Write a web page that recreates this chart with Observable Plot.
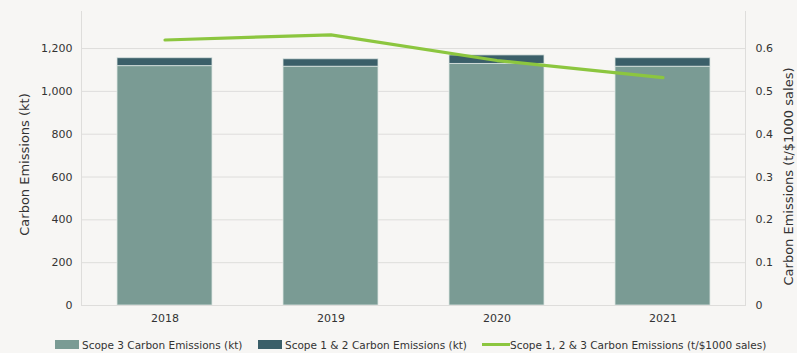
<!DOCTYPE html>
<html><head><meta charset="utf-8">
<script src="https://cdn.jsdelivr.net/npm/d3@7"></script>
<script src="https://cdn.jsdelivr.net/npm/@observablehq/plot@0.6"></script>
<style>
html,body{margin:0;padding:0;background:#f7f6f4;font-family:"DejaVu Sans",sans-serif;}
#chart{width:797px;height:353px;position:relative;overflow:hidden;}
.legend{position:absolute;top:336px;left:0;width:797px;height:17px;font-size:10.5px;color:#333;}
.legend .item{position:absolute;top:0;display:flex;align-items:center;height:17px;white-space:nowrap;}
.legend .sw{display:inline-block;width:24px;height:9px;margin-right:3px;}
.legend .ln{display:inline-block;width:28px;height:3px;margin-right:0px;}
</style></head>
<body><div id="chart"></div>
<script>
const years = ["2018","2019","2020","2021"];
const scope3 = [1118, 1115, 1128, 1115];
const scope12 = [37, 35, 40, 40];
const intensity = [0.620, 0.632, 0.572, 0.532];
const leftTicks = [0,200,400,600,800,1000,1200];
const rightTicks = [0,0.1,0.2,0.3,0.4,0.5,0.6];
const seriesNames = ["Scope 3 Carbon Emissions (kt)","Scope 1 & 2 Carbon Emissions (kt)","Scope 1, 2 & 3 Carbon Emissions (t/$1000 sales)"];
const leftTitle = "Carbon Emissions (kt)";
const rightTitle = "Carbon Emissions (t/$1000 sales)";
const colors = ["#7a9b94","#3b5f69","#8cc63f"];

const ratio = 1200/0.6;
const bars = [];
years.forEach((y,i)=>{
  bars.push({year:y, series:seriesNames[0], value:scope3[i], order:0});
  bars.push({year:y, series:seriesNames[1], value:scope12[i], order:1});
});
const line = years.map((y,i)=>({year:y, v:intensity[i]*ratio}));

const plot = Plot.plot({
  width:797, height:336,
  marginLeft:81, marginRight:52, marginTop:11, marginBottom:31,
  style:{background:"transparent", fontFamily:"DejaVu Sans, sans-serif", fontSize:"11px", color:"#333"},
  x:{domain:years, paddingInner:0.43, paddingOuter:0.215, label:null},
  y:{domain:[0,1373], label:null},
  color:{domain:seriesNames.slice(0,2), range:colors.slice(0,2)},
  marks:[
    Plot.gridY(leftTicks,{stroke:"#dedddb", strokeOpacity:1}),
    Plot.frame({anchor:"left", stroke:"#dedddb"}),
    Plot.frame({anchor:"right", stroke:"#dedddb"}),
    Plot.barY(bars, Plot.stackY({x:"year", y:"value", fill:"series", order:"order", stroke:"#dfe7e4", strokeWidth:1, strokeOpacity:0.8})),
    Plot.ruleY([0],{stroke:"#dedddb"}),
    Plot.lineY(line,{x:"year", y:"v", stroke:colors[2], strokeWidth:3.2}),
    Plot.axisX({tickSize:0, tickPadding:9, fontSize:11, label:null}),
    Plot.axisY({anchor:"left", ticks:leftTicks, tickSize:0, tickPadding:9, tickFormat:d3.format(","), fontSize:11, label:null}),
    Plot.axisY({anchor:"right", ticks:rightTicks.map(t=>t*ratio), tickSize:0, tickPadding:10,
      tickFormat:d=>{const v=Math.round(d/ratio*10)/10; return v===0?"0":String(v);}, fontSize:11, label:null}),
    Plot.text([leftTitle],{frameAnchor:"left", text:d=>d, rotate:-90, dx:-57, dy:6, fontSize:13, fill:"#333", textAnchor:"middle"}),
    Plot.text([rightTitle],{frameAnchor:"right", text:d=>d, rotate:-90, dx:43, dy:18, fontSize:13, fill:"#333", textAnchor:"middle"})
  ]
});
const chart = document.getElementById("chart");
chart.appendChild(plot);

const legend = document.createElement("div");
legend.className = "legend";
const lefts = [55, 258, 482];
seriesNames.forEach((n,i)=>{
  const it = document.createElement("div");
  it.className="item"; it.style.left = lefts[i]+"px";
  const s = document.createElement("span");
  s.className = i<2 ? "sw" : "ln";
  s.style.background = colors[i];
  it.appendChild(s);
  const t = document.createElement("span"); t.textContent = n;
  it.appendChild(t);
  legend.appendChild(it);
});
chart.appendChild(legend);
</script></body></html>
